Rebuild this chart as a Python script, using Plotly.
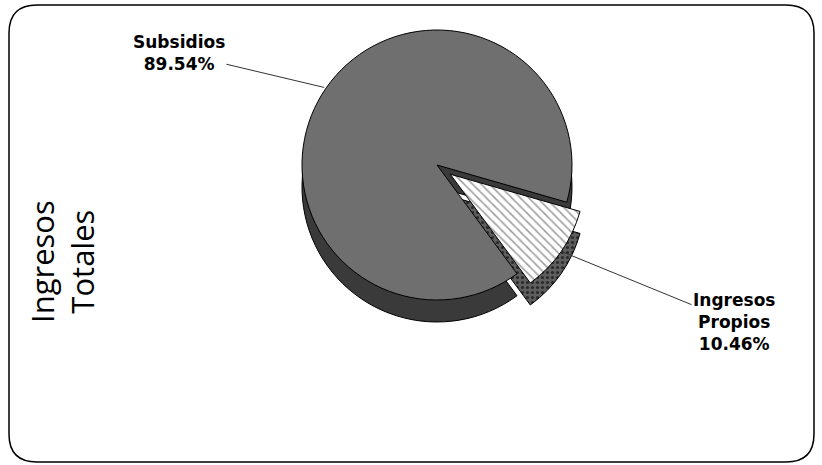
import numpy as np
import plotly.graph_objects as go

labels = ["Ingresos Propios", "Subsidios"]
values = [10.46, 89.54]
label_lines = [["Ingresos", "Propios"], ["Subsidios"]]
title_lines = ["Ingresos", "Totales"]

top_colors = ["white", "#6f6f6f"]
side_colors = ["#5e5e5e", "#3a3a3a"]
pulls = [0.12, 0.0]
rotation = 106

W, H = 822, 465
cx, cy = 437, 165          # pie centre in pixels (from top-left)
r = 135                    # radius in pixels
depth = 22
half = r * (1 + max(pulls))

def dom(cx, cy):
    return dict(x=[(cx - half) / W, (cx + half) / W],
                y=[1 - (cy + half) / H, 1 - (cy - half) / H])

fig = go.Figure()
# side / depth layer
fig.add_trace(go.Pie(
    labels=labels, values=values, sort=False, direction="clockwise",
    rotation=rotation, pull=pulls, textinfo="none", hoverinfo="skip",
    marker=dict(colors=side_colors, line=dict(color="black", width=1),
                pattern=dict(shape=[".", ""], fgcolor="#2a2a2a", bgcolor=side_colors[0],
                             size=5, solidity=0.3)),
    domain=dom(cx, cy + depth), showlegend=False))
# top layer
fig.add_trace(go.Pie(
    labels=labels, values=values, sort=False, direction="clockwise",
    rotation=rotation, pull=pulls, textinfo="none",
    marker=dict(colors=top_colors, line=dict(color="black", width=1),
                pattern=dict(shape=["\\", ""], fgcolor="#9a9a9a", bgcolor="white",
                             size=6, solidity=0.25)),
    domain=dom(cx, cy), showlegend=False))

# label annotations with leader lines, anchored at slice mid-angles
total = sum(values)
start = rotation
text_pos = [(734, 322), (179, 53)]
for i, v in enumerate(values):
    span = 360 * v / total
    mid = np.deg2rad(start + span / 2)
    start += span
    off = pulls[i] * r
    ex = cx + (off + r) * np.sin(mid)
    ey = cy - (off + r) * np.cos(mid)
    tx, ty = text_pos[i]
    txt = "<br>".join(label_lines[i] + [f"{v:.2f}%"])
    fig.add_annotation(
        x=ex, y=ey, xref="x", yref="y",
        ax=tx, ay=ty, axref="x", ayref="y",
        text=f"<b>{txt}</b>", showarrow=True, arrowhead=0, arrowwidth=1,
        arrowcolor="#333333", standoff=2,
        font=dict(family="DejaVu Sans", size=17, color="black"),
        align="center")

fig.add_annotation(
    x=62, y=262, xref="x", yref="y",
    text="<br>".join(title_lines), textangle=-90, showarrow=False,
    font=dict(family="Open Sans", size=31, color="black"), align="center")

# rounded frame
x0, y0, x1, y1, rr = 9, 5, 814, 462, 28
path = (f"M {x0+rr},{y0} L {x1-rr},{y0} Q {x1},{y0} {x1},{y0+rr} "
        f"L {x1},{y1-rr} Q {x1},{y1} {x1-rr},{y1} L {x0+rr},{y1} "
        f"Q {x0},{y1} {x0},{y1-rr} L {x0},{y0+rr} Q {x0},{y0} {x0+rr},{y0} Z")
fig.add_shape(type="path", xref="x", yref="y", path=path,
              line=dict(color="black", width=1.5))

fig.update_layout(
    width=W, height=H, margin=dict(l=0, r=0, t=0, b=0),
    paper_bgcolor="white", plot_bgcolor="white",
    xaxis=dict(visible=False, range=[0, W], domain=[0, 1], fixedrange=True),
    yaxis=dict(visible=False, range=[H, 0], domain=[0, 1], fixedrange=True),
)
fig.write_html("out.html", config={"displayModeBar": False},
               post_script="document.body.style.margin='0';document.body.style.overflow='hidden';")
